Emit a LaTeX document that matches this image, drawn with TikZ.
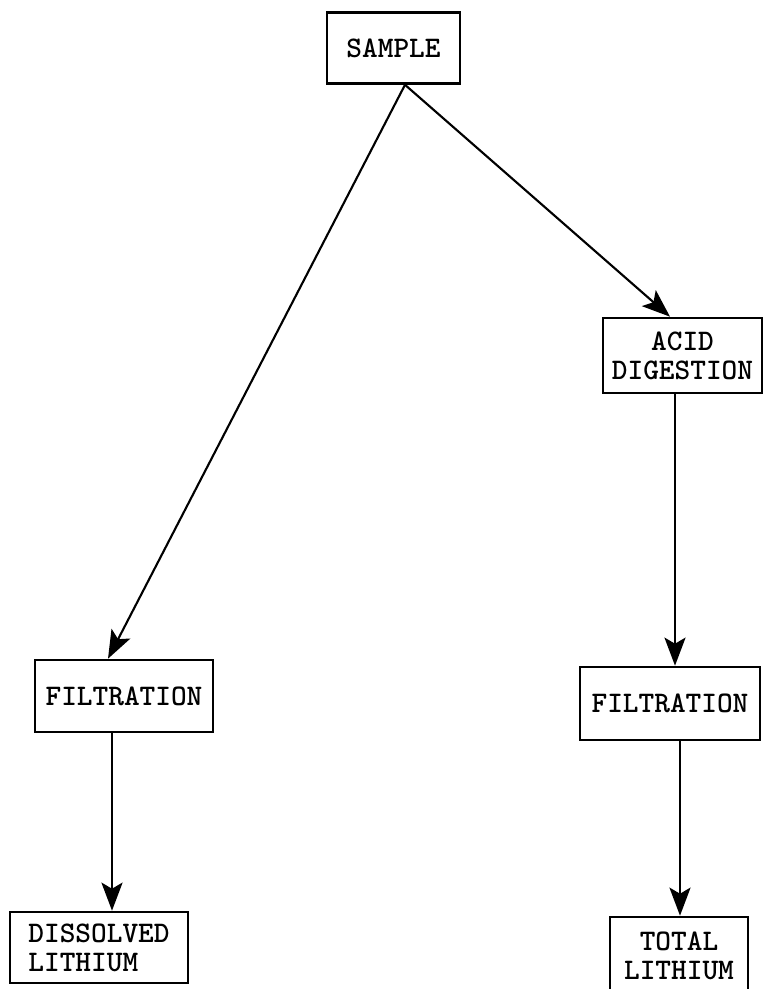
\documentclass[tikz,border=0pt]{standalone}
\usepackage{fontspec}
\usetikzlibrary{arrows.meta}

\tikzset{
  stepbox/.style={draw, line width=1.5pt, inner sep=0pt, align=center,
    font=\ttfamily\bfseries\fontsize{17}{16.5}\selectfont},
  arr/.style={line width=1.2pt, -{Stealth[length=16pt,width=12pt,inset=3.5pt]}}
}

\begin{document}
\begin{tikzpicture}[x=0.02cm,y=-0.02cm]
    \useasboundingbox (0,0) rectangle (763,989);
    % the boxes
    \node[stepbox, minimum width=2.66cm, minimum height=1.42cm] (sample) at (393.5,48) {SAMPLE};
    \node[stepbox, minimum width=3.18cm, minimum height=1.5cm] (acid) at (682.5,355.5) {ACID\\DIGESTION};
    \node[stepbox, minimum width=3.56cm, minimum height=1.44cm] (filtL) at (124,696) {FILTRATION};
    \node[stepbox, minimum width=3.6cm, minimum height=1.46cm] (filtR) at (670,703.5) {FILTRATION};
    \node[stepbox, align=left, minimum width=3.56cm, minimum height=1.42cm] (dissolved) at (99,947.5) {DISSOLVED\\LITHIUM};
    \node[stepbox, minimum width=2.76cm, minimum height=1.56cm] (total) at (679,956) {TOTAL\\LITHIUM};
    % the arrows
    \coordinate (fork) at ([xshift=0.23cm]sample.south);
    \draw[arr] (fork) -- ([xshift=-0.32cm]filtL.north);
    \draw[arr] (fork) -- ([xshift=-0.25cm]acid.north);
    \draw[arr] ([xshift=-0.15cm]acid.south) -- ([xshift=-0.15cm]acid.south |- filtR.north);
    \draw[arr] ([xshift=-0.24cm]filtL.south) -- ([xshift=-0.24cm]filtL.south |- dissolved.north);
    \draw[arr] ([xshift=0.2cm]filtR.south) -- ([xshift=0.2cm]filtR.south |- total.north);
  \end{tikzpicture}
\end{document}
